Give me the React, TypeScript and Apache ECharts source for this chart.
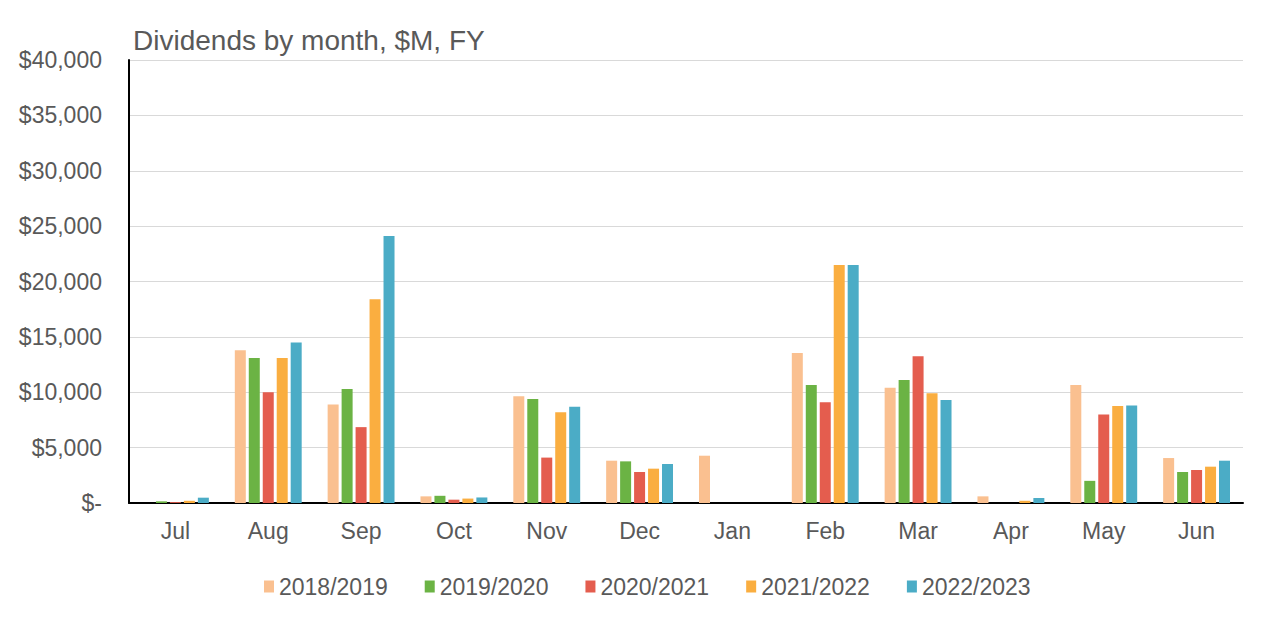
import React, { useEffect, useRef } from "react";
import * as echarts from "echarts";

const months = ["Jul", "Aug", "Sep", "Oct", "Nov", "Dec", "Jan", "Feb", "Mar", "Apr", "May", "Jun"];
const seriesNames = ["2018/2019", "2019/2020", "2020/2021", "2021/2022", "2022/2023"];
const fy1819 = [0, 13800, 8900, 600, 9650, 3820, 4270, 13550, 10400, 600, 10650, 4060];
const fy1920 = [150, 13100, 10300, 650, 9400, 3760, 0, 10650, 11100, 0, 2000, 2800];
const fy2021 = [80, 10000, 6850, 300, 4100, 2800, 0, 9100, 13250, 0, 8000, 2980];
const fy2122 = [200, 13100, 18400, 400, 8200, 3100, 0, 21500, 9900, 200, 8760, 3280];
const fy2223 = [480, 14500, 24100, 500, 8700, 3520, 0, 21500, 9300, 450, 8800, 3820];
const colors = ["#FAC090", "#6BB344", "#E45D4E", "#FAAE40", "#4BACC6"];

export default function App() {
  const ref = useRef<HTMLDivElement>(null);
  useEffect(() => {
    if (!ref.current) return;
    const chart = echarts.init(ref.current, undefined, { renderer: "svg" });
    const data = [fy1819, fy1920, fy2021, fy2122, fy2223];
    const textColor = "#595959";
    const font = "Arial, 'Liberation Sans', sans-serif";
    chart.setOption({
      animation: false,
      backgroundColor: "#ffffff",
      title: {
        text: "Dividends by month, $M, FY",
        left: 128,
        top: 21,
        textStyle: { color: textColor, fontSize: 28, fontWeight: "normal", fontFamily: font },
      },
      legend: {
        data: seriesNames,
        left: 259,
        top: 570,
        icon: "rect",
        itemWidth: 10,
        itemHeight: 12,
        itemGap: 37,
        textStyle: { color: textColor, fontSize: 23, fontFamily: font },
      },
      grid: { left: 129, right: 37, top: 60, bottom: 116, containLabel: false },
      xAxis: {
        type: "category",
        data: months,
        axisLine: { show: true, lineStyle: { color: "#000000", width: 2 } },
        axisTick: { show: false },
        axisLabel: { color: textColor, fontSize: 23, fontFamily: font, margin: 16 },
      },
      yAxis: {
        type: "value",
        min: 0,
        max: 40000,
        interval: 5000,
        axisLine: { show: true, lineStyle: { color: "#000000", width: 2 } },
        axisTick: { show: false },
        splitLine: { show: true, lineStyle: { color: "#D9D9D9", width: 1 } },
        axisLabel: {
          color: textColor,
          fontSize: 23,
          fontFamily: font,
          margin: 27,
          formatter: (v: number) => (v === 0 ? "$-" : "$" + v.toLocaleString("en-US")),
        },
      },
      series: seriesNames.map((name, i) => ({
        name,
        type: "bar",
        data: data[i],
        barWidth: 11,
        barGap: "27%",
        itemStyle: { color: colors[i] },
      })),
    });
    return () => chart.dispose();
  }, []);
  return <div ref={ref} style={{ position: "fixed", left: 0, top: 0, width: 1280, height: 619 }} />;
}
